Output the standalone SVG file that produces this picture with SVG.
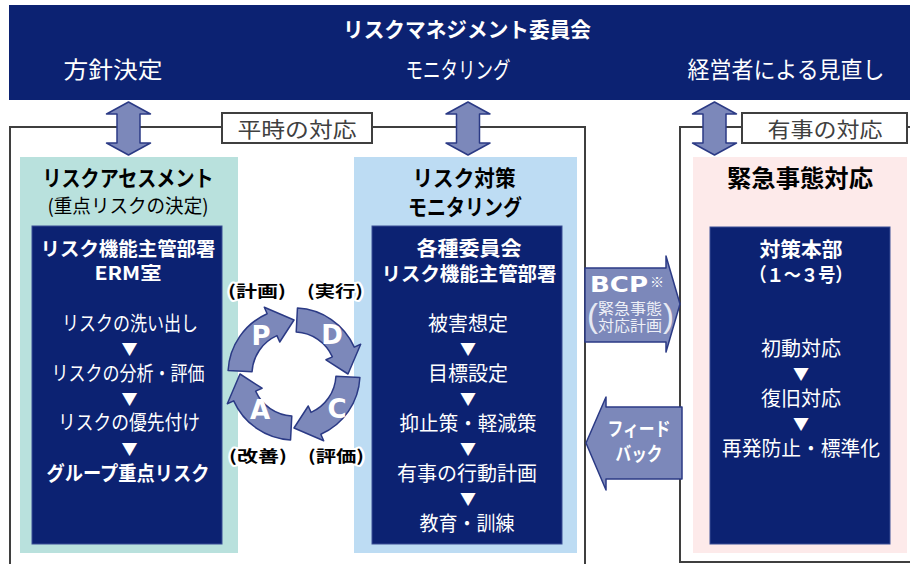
<svg xmlns="http://www.w3.org/2000/svg" width="910" height="564" viewBox="0 0 910 564">
<style>
text{font-family:"Noto Sans CJK JP","Noto Sans CJK SC",sans-serif;text-anchor:middle}
.b{font-weight:bold}
.w{fill:#fff}
.k{fill:#000}
.body{font-size:20px;fill:#fff}
.tri{font-size:16px;fill:#fff}
.arr{fill:#7c88ba;stroke:#2b3a85;stroke-width:1.5;stroke-linejoin:round}
.frame{fill:none;stroke:#3f3f3f;stroke-width:2}
.lbl{fill:#fff;stroke:#3f3f3f;stroke-width:2}
.lbltx{font-size:21px;fill:#404040}
.navy{fill:#0c2272}
.inner{fill:#0c2272;stroke:#3a4f96;stroke-width:1}
.halo{font-size:16px;font-weight:bold;fill:#000;paint-order:stroke;stroke:#fff;stroke-width:4;stroke-linejoin:round}
.let{font-family:"DejaVu Sans",sans-serif;font-weight:bold;font-size:26px;fill:#fff}
</style>
<defs>
<path id="dbl" d="M0,102 L22,114 H11.5 V143 H22 L0,155 L-22,143 H-11.5 V114 H-22 Z"/>
<path id="seg" d="M-65.91,-3.45 A66,66 0 0 1 -26.84,-60.29 L-29.69,-66.69 L0,-54 L-14.24,-31.97 L-17.08,-38.37 A42,42 0 0 0 -41.94,-2.20 Z"/>
</defs>

<g id="banner">
<rect x="9" y="5" width="901" height="95" class="navy"/>
<text x="467" y="37" class="w b" font-size="21" textLength="248" lengthAdjust="spacingAndGlyphs">リスクマネジメント委員会</text>
<text x="113" y="78" class="w" font-size="23" textLength="99" lengthAdjust="spacingAndGlyphs">方針決定</text>
<text x="458" y="78" class="w" font-size="23" textLength="105" lengthAdjust="spacingAndGlyphs">モニタリング</text>
<text x="786" y="78" class="w" font-size="23" textLength="197" lengthAdjust="spacingAndGlyphs">経営者による見直し</text>
</g>

<g id="frame-normal">
<path class="frame" d="M10,566 V127 H585 V566"/>
<rect class="lbl" x="222" y="113" width="150" height="30"/>
<text x="297" y="137" class="lbltx" textLength="119" lengthAdjust="spacingAndGlyphs">平時の対応</text>
</g>

<g id="frame-emergency">
<path class="frame" d="M912,562 H680 V127 H912"/>
<rect class="lbl" x="742" y="113" width="165" height="30"/>
<text x="825" y="137" class="lbltx" textLength="115" lengthAdjust="spacingAndGlyphs">有事の対応</text>
</g>

<g id="node-assessment">
<rect x="20" y="157" width="218" height="396" fill="#b9e1dd"/>
<text x="128" y="186" class="k b" font-size="22" textLength="171" lengthAdjust="spacingAndGlyphs">リスクアセスメント</text>
<text x="128" y="213" class="k" font-size="19" textLength="161" lengthAdjust="spacingAndGlyphs">(重点リスクの決定)</text>
<rect x="32" y="226" width="190" height="318" class="inner"/>
<text x="128" y="256" class="w b" font-size="19" textLength="175" lengthAdjust="spacingAndGlyphs">リスク機能主管部署</text>
<text x="128" y="280" class="w b" font-size="18" textLength="67" lengthAdjust="spacingAndGlyphs">ERM室</text>
<text x="130" y="331" class="body" textLength="136" lengthAdjust="spacingAndGlyphs">リスクの洗い出し</text>
<text x="129.5" y="355" class="tri">▼</text>
<text x="128" y="381" class="body" textLength="153" lengthAdjust="spacingAndGlyphs">リスクの分析・評価</text>
<text x="129.5" y="405" class="tri">▼</text>
<text x="129" y="430" class="body" textLength="142" lengthAdjust="spacingAndGlyphs">リスクの優先付け</text>
<text x="129.5" y="455" class="tri">▼</text>
<text x="128" y="481" class="body b" textLength="163" lengthAdjust="spacingAndGlyphs">グループ重点リスク</text>
</g>

<g id="node-measures">
<rect x="354" y="157" width="223" height="396" fill="#bddcf3"/>
<text x="464" y="186" class="k b" font-size="22" textLength="103" lengthAdjust="spacingAndGlyphs">リスク対策</text>
<text x="465" y="215" class="k b" font-size="22" textLength="114" lengthAdjust="spacingAndGlyphs">モニタリング</text>
<rect x="372" y="226" width="190" height="318" class="inner"/>
<text x="469" y="256" class="w b" font-size="20" textLength="105" lengthAdjust="spacingAndGlyphs">各種委員会</text>
<text x="469" y="281" class="w b" font-size="19" textLength="175" lengthAdjust="spacingAndGlyphs">リスク機能主管部署</text>
<text x="468" y="331" class="body">被害想定</text>
<text x="468" y="355" class="tri">▼</text>
<text x="468" y="381" class="body">目標設定</text>
<text x="468" y="405" class="tri">▼</text>
<text x="468" y="431" class="body" textLength="137" lengthAdjust="spacingAndGlyphs">抑止策・軽減策</text>
<text x="468" y="455" class="tri">▼</text>
<text x="467" y="481" class="body" textLength="140" lengthAdjust="spacingAndGlyphs">有事の行動計画</text>
<text x="468" y="505" class="tri">▼</text>
<text x="467" y="531" class="body" textLength="95" lengthAdjust="spacingAndGlyphs">教育・訓練</text>
</g>

<g id="node-emergency">
<rect x="693" y="157" width="214" height="396" fill="#fdeaea"/>
<text x="800" y="187" class="k b" font-size="24" textLength="146" lengthAdjust="spacingAndGlyphs">緊急事態対応</text>
<rect x="710" y="227" width="180" height="317" class="inner"/>
<text x="801" y="257" class="w b" font-size="20" textLength="83" lengthAdjust="spacingAndGlyphs">対策本部</text>
<text x="801" y="282" class="w b" font-size="19" textLength="103" lengthAdjust="spacingAndGlyphs">（１～３号）</text>
<text x="801" y="356" class="body">初動対応</text>
<text x="801" y="380" class="tri">▼</text>
<text x="801" y="406" class="body">復旧対応</text>
<text x="801" y="430" class="tri">▼</text>
<text x="801" y="456" class="body" textLength="158" lengthAdjust="spacingAndGlyphs">再発防止・標準化</text>
</g>

<g id="pdca">
<use href="#seg" class="arr" transform="translate(294,374)"/>
<use href="#seg" class="arr" transform="translate(294,374) rotate(90)"/>
<use href="#seg" class="arr" transform="translate(294,374) rotate(180)"/>
<use href="#seg" class="arr" transform="translate(294,374) rotate(270)"/>
<text x="261" y="345" class="let">P</text>
<text x="332" y="344" class="let">D</text>
<text x="337" y="418" class="let">C</text>
<text x="260" y="419" class="let">A</text>
<text x="257" y="297" class="halo" textLength="58" lengthAdjust="spacingAndGlyphs">(計画)</text>
<text x="335" y="297" class="halo" textLength="56" lengthAdjust="spacingAndGlyphs">(実行)</text>
<text x="258" y="462" class="halo" textLength="58" lengthAdjust="spacingAndGlyphs">(改善)</text>
<text x="336" y="462" class="halo" textLength="56" lengthAdjust="spacingAndGlyphs">(評価)</text>
</g>

<g id="connectors">
<use href="#dbl" class="arr" x="128.5"/>
<use href="#dbl" class="arr" x="468"/>
<use href="#dbl" class="arr" x="714.5"/>
<g id="bcp">
<path class="arr" d="M585,268 H666 V256 L680,304 L666,352 V342 H585 Z"/>
<text x="590" y="292" style="text-anchor:start;font-family:'DejaVu Sans',sans-serif" class="w b" font-size="21" textLength="58" lengthAdjust="spacingAndGlyphs">BCP</text>
<text x="650" y="287" style="text-anchor:start" class="w" font-size="14">※</text>
<text x="587" y="327" style="text-anchor:start;font-family:'Liberation Sans',sans-serif" fill="#e6e9f3" font-size="33">(</text>
<text x="663" y="327" style="text-anchor:start;font-family:'Liberation Sans',sans-serif" fill="#e6e9f3" font-size="33">)</text>
<text x="630" y="314" fill="#eef0f7" font-size="15" textLength="64" lengthAdjust="spacingAndGlyphs">緊急事態</text>
<text x="630" y="331" fill="#eef0f7" font-size="15" textLength="64" lengthAdjust="spacingAndGlyphs">対応計画</text>
</g>
<g id="feedback">
<path class="arr" d="M682,407 H606 V397 L586,443 L606,490 V479 H682 Z"/>
<text x="639" y="436" class="w b" font-size="19" textLength="63" lengthAdjust="spacingAndGlyphs">フィード</text>
<text x="639" y="461" class="w b" font-size="19" textLength="47" lengthAdjust="spacingAndGlyphs">バック</text>
</g>
</g>
</svg>
